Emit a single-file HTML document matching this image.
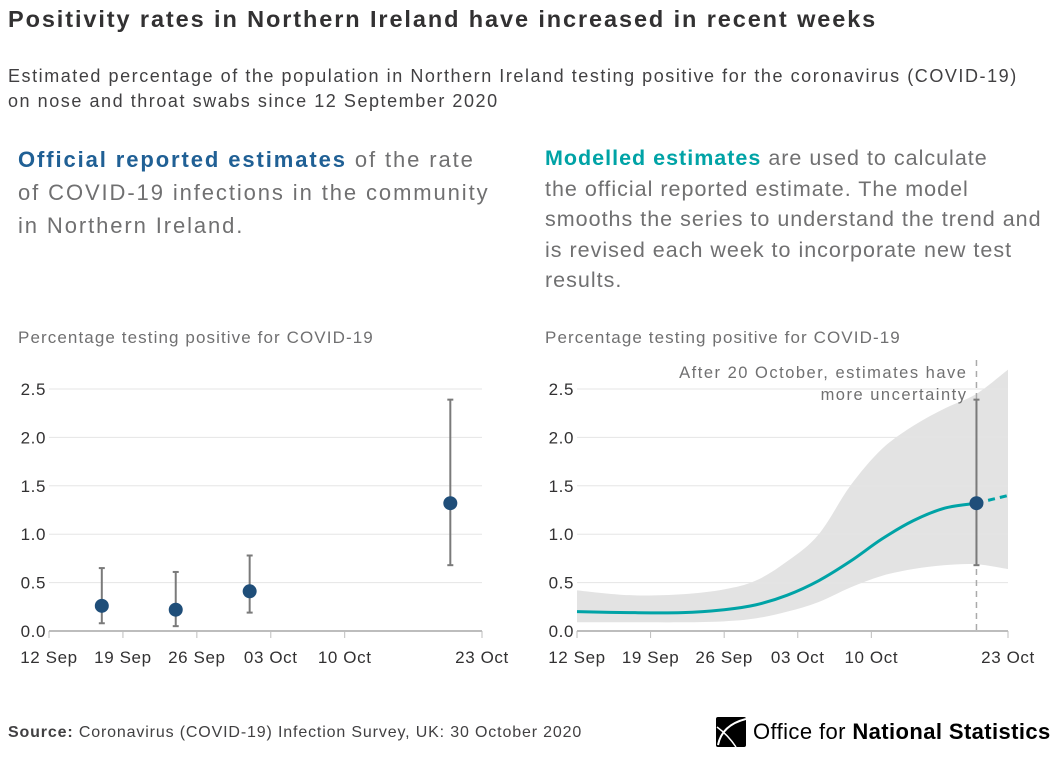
<!DOCTYPE html>
<html><head><meta charset="utf-8"><style>
body{margin:0;width:1056px;height:780px;background:#fff;font-family:"Liberation Sans",sans-serif;overflow:hidden;position:relative;color:#323132}
.a{position:absolute;white-space:nowrap}
svg text{letter-spacing:0.6px}
</style></head><body>
<div class="a" style="left:8px;top:6px;font-size:23.5px;letter-spacing:1.9px;font-weight:bold;color:#323132">Positivity rates in Northern Ireland have increased in recent weeks</div>
<div class="a" style="left:8px;top:64px;font-size:18px;letter-spacing:1.55px;line-height:25px;color:#414042">Estimated percentage of the population in Northern Ireland testing positive for the coronavirus (COVID-19)<br>on nose and throat swabs since 12 September 2020</div>
<div class="a" style="left:18px;top:143px;font-size:22px;letter-spacing:1.9px;line-height:33px;color:#707071"><b style="color:#206095">Official reported estimates</b> of the rate<br>of COVID-19 infections in the community<br>in Northern Ireland.</div>
<div class="a" style="left:545px;top:143px;font-size:21.5px;letter-spacing:1.0px;line-height:30.5px;color:#707071"><b style="color:#00a3a6">Modelled estimates</b> are used to calculate<br>the official reported estimate. The model<br>smooths the series to understand the trend and<br>is revised each week to incorporate new test<br>results.</div>
<div class="a" style="left:18px;top:328px;font-size:17px;letter-spacing:1.1px;color:#707071">Percentage testing positive for COVID-19</div>
<div class="a" style="left:545px;top:328px;font-size:17px;letter-spacing:1.1px;color:#707071">Percentage testing positive for COVID-19</div>
<svg id="c" width="1056" height="780" style="position:absolute;left:0;top:0"></svg>
<div class="a" style="left:8px;top:724px;font-size:16px;letter-spacing:0.85px;color:#414042"><b>Source:</b> Coronavirus (COVID-19) Infection Survey, UK: 30 October 2020</div>
<div class="a" style="left:716px;top:716px;height:31px;display:flex;align-items:center">
<svg width="30" height="30" style="margin-right:7px"><rect width="30" height="30" rx="2" fill="#000"/><path d="M30 2 Q6 8 2 28" stroke="#fff" stroke-width="2" fill="none"/><path d="M1 10 Q12 18 20 30" stroke="#fff" stroke-width="1.5" fill="none"/></svg>
<span style="font-size:22px;letter-spacing:0.4px;color:#000">Office for <b>National Statistics</b></span></div>
<script>
const tickLabels=["12 Sep","19 Sep","26 Sep","03 Oct","10 Oct","23 Oct"];
const tickDays=[0,7,14,21,28,41];
const yTicks=[0,0.5,1,1.5,2,2.5];
const ptDays=[5,12,19,38];
const ptVals=[0.26,0.22,0.41,1.32];
const ptLo=[0.08,0.05,0.19,0.68];
const ptHi=[0.65,0.61,0.78,2.39];
const mDays=[0,5,10,14,17,20,23,26,29,32,35,38,41];
const mVals=[0.2,0.19,0.19,0.22,0.27,0.37,0.52,0.72,0.95,1.14,1.27,1.32,1.40];
const mLo=[0.09,0.09,0.09,0.10,0.13,0.20,0.30,0.45,0.57,0.64,0.68,0.69,0.64];
const mHi=[0.42,0.37,0.38,0.43,0.52,0.72,1.0,1.5,1.88,2.12,2.3,2.45,2.7];
const svg=document.getElementById('c');const NS='http://www.w3.org/2000/svg';
function mk(t,a,p){const e=document.createElementNS(NS,t);for(const k in a)e.setAttribute(k,a[k]);(p||svg).appendChild(e);return e;}
const y=v=>631-v*96.8;
function axes(x0,x1,nm){
 const g=mk('g',{});
 
 
 const x=d=>x0+d*(x1-x0)/41;
 yTicks.forEach(v=>{
  if(v>0){const l=mk('line',{x1:x0,x2:x1,y1:y(v),y2:y(v),stroke:'#e5e5e5','stroke-width':1},g);
  }
  const t=mk('text',{x:x0-3,y:y(v)+6,'text-anchor':'end','font-size':17,fill:'#323132'},g);t.textContent=v.toFixed(1);
  
 });
 const b=mk('line',{x1:x0,x2:x1,y1:631,y2:631,stroke:'#bdbdbd','stroke-width':2},g);
 
 tickDays.forEach((d,i)=>{
  mk('line',{x1:x(d),x2:x(d),y1:631,y2:638,stroke:'#bdbdbd','stroke-width':1},g);
  const t=mk('text',{x:x(d),y:663,'text-anchor':'middle','font-size':17,fill:'#323132'},g);t.textContent=tickLabels[i];
  
 });
 return x;
}
function errbar(x,i,nm){
 const l=mk('line',{x1:x(ptDays[i]),x2:x(ptDays[i]),y1:y(ptLo[i]),y2:y(ptHi[i]),stroke:'#7a7a7a','stroke-width':2});
 
 [ptLo[i],ptHi[i]].forEach(v=>mk('line',{x1:x(ptDays[i])-3,x2:x(ptDays[i])+3,y1:y(v),y2:y(v),stroke:'#7a7a7a','stroke-width':2}));
 const c=mk('circle',{cx:x(ptDays[i]),cy:y(ptVals[i]),r:7,fill:'#1f4e79'});
 
}
const xl=axes(49,482,'left');
ptDays.forEach((d,i)=>errbar(xl,i,'official-estimate'));
const xr=axes(577,1008,'right');
function smooth(p){let d='M'+p[0];for(let i=1;i<p.length;i++){const p0=p[i-2]||p[i-1],p1=p[i-1],p2=p[i],p3=p[i+1]||p2;d+=` C${p1[0]+(p2[0]-p0[0])/6},${p1[1]+(p2[1]-p0[1])/6} ${p2[0]-(p3[0]-p1[0])/6},${p2[1]-(p3[1]-p1[1])/6} ${p2[0]},${p2[1]}`;}return d;}
const hiPts=mDays.map((d,i)=>[xr(d),y(mHi[i])]);
const loPts=mDays.map((d,i)=>[xr(d),y(mLo[i])]).reverse();
const band=smooth(hiPts)+' L'+smooth(loPts).slice(1)+'Z';
const bp=mk('path',{d:band,fill:'#e3e3e3'});

const rg=svg.querySelectorAll('g')[1];svg.insertBefore(bp,rg);
const cut=ptDays[3];
const solid=[],dash=[];
mDays.forEach((d,i)=>{if(d<=cut)solid.push([xr(d),y(mVals[i])]);if(d>=cut)dash.push([xr(d),y(mVals[i])]);});
const ml=mk('path',{d:smooth(solid),fill:'none',stroke:'#00a3a6','stroke-width':3});

const md=mk('path',{d:smooth(dash),fill:'none',stroke:'#00a3a6','stroke-width':3,'stroke-dasharray':'7,5'});

const vl=mk('line',{x1:xr(cut),x2:xr(cut),y1:360,y2:631,stroke:'#aaa','stroke-width':1.5,'stroke-dasharray':'6,5'});

errbar(xr,3,'official-estimate-right');
const a1=mk('text',{x:xr(cut)-9,y:378,'text-anchor':'end','font-size':16.5,fill:'#707071',style:'letter-spacing:1.5px'});a1.textContent='After 20 October, estimates have';

const a2=mk('text',{x:xr(cut)-9,y:400,'text-anchor':'end','font-size':16.5,fill:'#707071',style:'letter-spacing:1.5px'});a2.textContent='more uncertainty';

</script>
</body></html>
